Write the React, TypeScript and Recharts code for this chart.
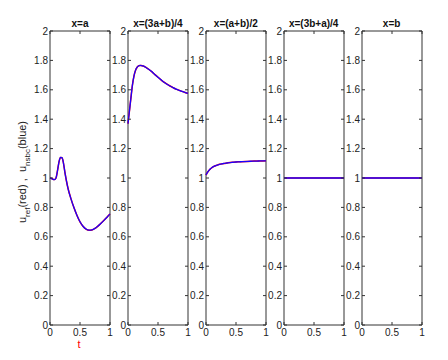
import { LineChart, Line, XAxis, YAxis, ReferenceArea } from 'recharts';

// time samples shared by every panel
const T = [0, 0.025, 0.05, 0.075, 0.1, 0.125, 0.15, 0.175, 0.2, 0.225, 0.25, 0.275, 0.3, 0.35, 0.4, 0.45, 0.5, 0.55, 0.6, 0.65, 0.7, 0.75, 0.8, 0.85, 0.9, 0.95, 1];

const TITLES = ['x=a', 'x=(3a+b)/4', 'x=(a+b)/2', 'x=(3b+a)/4', 'x=b'];

// u_ref (red)
const REF_A = [1.0, 0.997, 0.991, 0.989, 1.0, 1.05, 1.11, 1.14, 1.138, 1.1, 1.035, 0.978, 0.93, 0.858, 0.797, 0.745, 0.702, 0.672, 0.653, 0.645, 0.647, 0.657, 0.673, 0.692, 0.712, 0.733, 0.755];
const REF_B = [1.37, 1.46, 1.55, 1.635, 1.695, 1.732, 1.752, 1.762, 1.766, 1.765, 1.762, 1.758, 1.752, 1.738, 1.722, 1.703, 1.685, 1.668, 1.652, 1.638, 1.626, 1.615, 1.605, 1.597, 1.589, 1.582, 1.576];
const REF_C = [1.02, 1.038, 1.052, 1.063, 1.071, 1.077, 1.082, 1.086, 1.09, 1.093, 1.095, 1.097, 1.099, 1.102, 1.105, 1.107, 1.109, 1.11, 1.111, 1.112, 1.113, 1.114, 1.115, 1.115, 1.116, 1.116, 1.117];
const REF_D = [1, 1, 1, 1, 1, 1, 1, 1, 1, 1, 1, 1, 1, 1, 1, 1, 1, 1, 1, 1, 1, 1, 1, 1, 1, 1, 1];
const REF_E = [1, 1, 1, 1, 1, 1, 1, 1, 1, 1, 1, 1, 1, 1, 1, 1, 1, 1, 1, 1, 1, 1, 1, 1, 1, 1, 1];

// u_nsbc (blue), drawn over the reference
const NSBC_A = [1.0, 0.997, 0.991, 0.989, 1.0, 1.05, 1.11, 1.14, 1.138, 1.1, 1.035, 0.978, 0.93, 0.858, 0.797, 0.745, 0.702, 0.672, 0.653, 0.645, 0.647, 0.657, 0.673, 0.692, 0.712, 0.733, 0.755];
const NSBC_B = [1.37, 1.46, 1.55, 1.635, 1.695, 1.732, 1.752, 1.762, 1.766, 1.765, 1.762, 1.758, 1.752, 1.738, 1.722, 1.703, 1.685, 1.668, 1.652, 1.638, 1.626, 1.615, 1.605, 1.597, 1.589, 1.582, 1.576];
const NSBC_C = [1.02, 1.038, 1.052, 1.063, 1.071, 1.077, 1.082, 1.086, 1.09, 1.093, 1.095, 1.097, 1.099, 1.102, 1.105, 1.107, 1.109, 1.11, 1.111, 1.112, 1.113, 1.114, 1.115, 1.115, 1.116, 1.116, 1.117];
const NSBC_D = [1, 1, 1, 1, 1, 1, 1, 1, 1, 1, 1, 1, 1, 1, 1, 1, 1, 1, 1, 1, 1, 1, 1, 1, 1, 1, 1];
const NSBC_E = [1, 1, 1, 1, 1, 1, 1, 1, 1, 1, 1, 1, 1, 1, 1, 1, 1, 1, 1, 1, 1, 1, 1, 1, 1, 1, 1];

const Y_TICKS = [0, 0.2, 0.4, 0.6, 0.8, 1, 1.2, 1.4, 1.6, 1.8, 2];
const X_TICKS = [0, 0.5, 1];

const REFS = [REF_A, REF_B, REF_C, REF_D, REF_E];
const NSBCS = [NSBC_A, NSBC_B, NSBC_C, NSBC_D, NSBC_E];

const FONT = '"Liberation Sans", Arial, Helvetica, sans-serif';
const AXIS = '#333';

// layout of one panel svg
const W = 100;
const H = 360;
const PL = 30; // plot left inside svg
const PR = 90; // plot right
const PT = 31;
const PB = 325;
const TICK = 3;

function fmt(v: number) {
  return String(Number(v.toFixed(1)));
}

function YTick(props: any) {
  const { y, payload } = props;
  return (
    <g>
      <line x1={PL} x2={PL + TICK} y1={y} y2={y} stroke={AXIS} />
      <line x1={PR - TICK} x2={PR} y1={y} y2={y} stroke={AXIS} />
      <text x={PL - 2} y={y} dy={3.5} textAnchor="end" fontSize={10} fill="#222" fontFamily={FONT}>
        {fmt(payload.value)}
      </text>
    </g>
  );
}

function XTick(props: any) {
  const { x, payload } = props;
  return (
    <g>
      <line x1={x} x2={x} y1={PB} y2={PB - TICK} stroke={AXIS} />
      <line x1={x} x2={x} y1={PT} y2={PT + TICK} stroke={AXIS} />
      <text x={x} y={PB + 11} textAnchor="middle" fontSize={10} fill="#222" fontFamily={FONT}>
        {fmt(payload.value)}
      </text>
    </g>
  );
}

function Panel({ index }: { index: number }) {
  const data = T.map((t, i) => ({ t, ref: REFS[index][i], nsbc: NSBCS[index][i] }));
  const left = 50 + index * 77.9 - PL;
  return (
    <div style={{ position: 'absolute', left, top: 0 }}>
      <LineChart width={W} height={H} data={data} margin={{ top: PT, right: W - PR, bottom: 0, left: 0 }}>
        <XAxis
          dataKey="t"
          type="number"
          domain={[0, 1]}
          ticks={X_TICKS}
          interval={0}
          height={H - PB}
          axisLine={false}
          tickLine={false}
          tick={XTick}
        />
        <YAxis
          type="number"
          domain={[0, 2]}
          ticks={Y_TICKS}
          interval={0}
          width={PL}
          axisLine={false}
          tickLine={false}
          tick={YTick}
        />
        <ReferenceArea x1={0} x2={1} y1={0} y2={2} fill="none" fillOpacity={0} stroke={AXIS} strokeWidth={1} strokeOpacity={1} />
        <Line type="monotone" dataKey="ref" stroke="#ff0000" strokeWidth={1.5} dot={false} isAnimationActive={false} />
        <Line type="monotone" dataKey="nsbc" stroke="#1a00ff" strokeWidth={1.3} dot={false} isAnimationActive={false} />
      </LineChart>
      <div
        style={{
          position: 'absolute',
          left: PL,
          width: PR - PL,
          top: 18,
          textAlign: 'center',
          fontFamily: FONT,
          fontWeight: 'bold',
          fontSize: 10,
          lineHeight: '12px',
          whiteSpace: 'nowrap',
          color: '#111',
        }}
      >
        {TITLES[index]}
      </div>
    </div>
  );
}

export default function App() {
  return (
    <div style={{ position: 'absolute', left: 0, top: 0, width: 448, height: 360, background: '#fff', overflow: 'hidden' }}>
      {TITLES.map((_, i) => (
        <Panel key={i} index={i} />
      ))}
      <div
        style={{
          position: 'absolute',
          left: 24,
          top: 172,
          transform: 'translate(-50%, -50%) rotate(-90deg)',
          fontFamily: FONT,
          fontSize: 11,
          whiteSpace: 'nowrap',
          color: '#222',
        }}
      >
        u<sub style={{ fontSize: 8 }}>ref</sub>(red) ,&nbsp;&nbsp;u<sub style={{ fontSize: 8 }}>nsbc</sub>(blue)
      </div>
      <div
        style={{
          position: 'absolute',
          left: 79,
          top: 344,
          transform: 'translate(-50%, -50%)',
          fontFamily: FONT,
          fontSize: 11,
          color: '#ff0000',
        }}
      >
        t
      </div>
    </div>
  );
}
